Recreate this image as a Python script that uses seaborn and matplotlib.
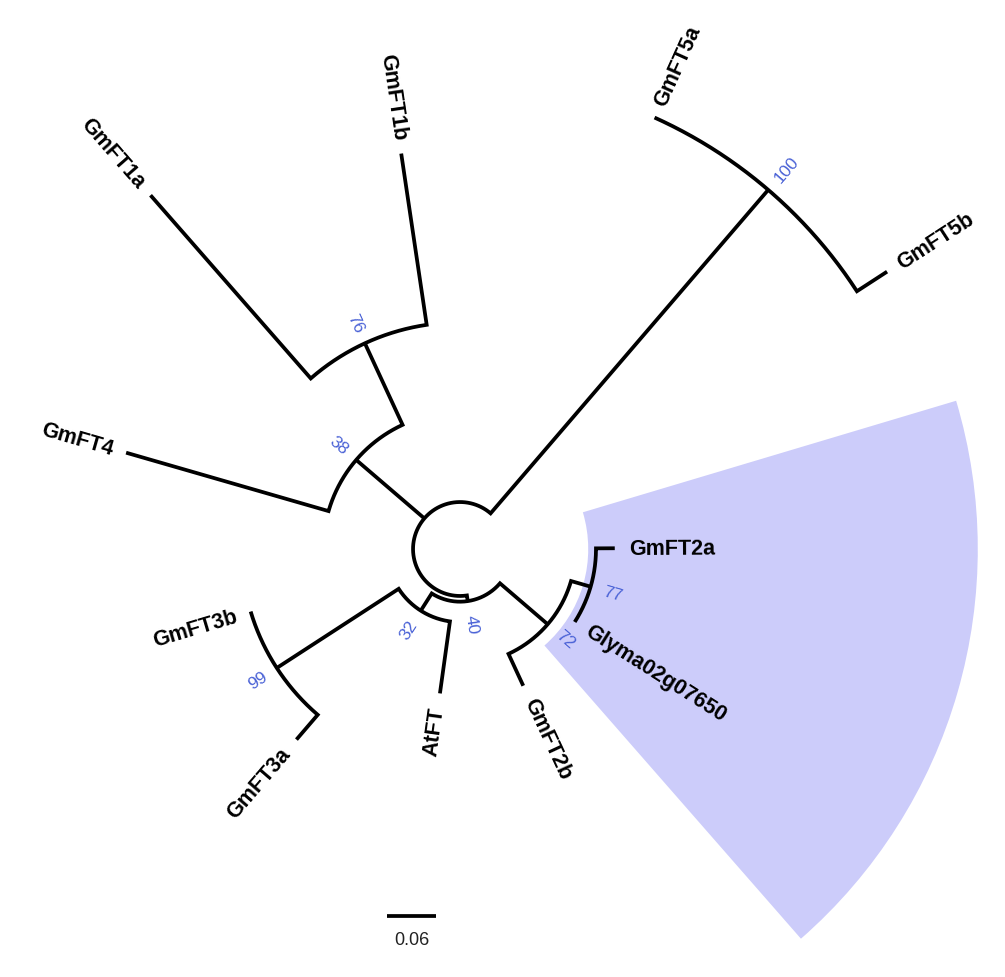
import numpy as np
import pandas as pd
import seaborn as sns
import matplotlib
matplotlib.use("Agg")
import matplotlib.pyplot as plt
from matplotlib.patches import Wedge

# tree as node / parent / branch length (subst. per site), children listed counter-clockwise
node_names = ['root', 'n100', 'GmFT5b', 'GmFT5a', 'n38', 'n76', 'GmFT1b', 'GmFT1a', 'GmFT4',
              'n40', 'n32', 'n99', 'GmFT3b', 'GmFT3a', 'AtFT', 'n72', 'GmFT2b', 'n77',
              'Glyma02g07650', 'GmFT2a']
parent_names = [None, 'root', 'n100', 'n100', 'root', 'n38', 'n76', 'n76', 'n38',
                'root', 'n40', 'n32', 'n99', 'n99', 'n32', 'n40', 'n72', 'n72',
                'n77', 'n77']
branch_len = [0.0, 0.522, 0.044, 0.0, 0.110, 0.110, 0.212, 0.298, 0.258,
              0.007, 0.025, 0.178, 0.0, 0.040, 0.089, 0.077, 0.043, 0.025,
              0.0, 0.023]

boot_nodes = ['n100', 'n76', 'n38', 'n40', 'n32', 'n99', 'n72', 'n77']
boot_values = [100, 76, 38, 40, 32, 99, 72, 77]

highlight_clade = 'n77'
highlight_r = (0.157, 0.634)
scale_value = 0.06

root_offset = 0.0575
start_angle = 33.0

sns.set_theme(style="white")
plt.rcParams['font.family'] = ['Liberation Sans', 'DejaVu Sans']

# ---- layout ----
children = {n: [] for n in node_names}
for n, p in zip(node_names, parent_names):
    if p is not None:
        children[p].append(n)
blen = dict(zip(node_names, branch_len))

radius = {}
def set_radius(n, r):
    radius[n] = r
    for c in children[n]:
        set_radius(c, r + blen[c])
set_radius('root', root_offset)

leaves = []
def collect(n):
    if not children[n]:
        leaves.append(n)
    for c in children[n]:
        collect(c)
collect('root')

step = 360.0 / len(leaves)
angle = {lf: start_angle + i * step for i, lf in enumerate(leaves)}
def set_angle(n):
    if children[n]:
        for c in children[n]:
            set_angle(c)
        angle[n] = (angle[children[n][0]] + angle[children[n][-1]]) / 2
set_angle('root')

def xy(r, a):
    t = np.deg2rad(a)
    return r * np.cos(t), r * np.sin(t)

rows = []
pid = 0
for n in node_names:
    kids = children[n]
    if not kids:
        continue
    c1, c2 = kids[0], kids[-1]
    pts = [xy(radius[c1], angle[c1])]
    for a in np.linspace(angle[c1], angle[c2], 200):
        pts.append(xy(radius[n], a))
    pts.append(xy(radius[c2], angle[c2]))
    for i, (x, y) in enumerate(pts):
        rows.append(dict(path=pid, order=i, x=x, y=y))
    pid += 1
    for c in kids[1:-1]:
        for i, r in enumerate([radius[n], radius[c]]):
            x, y = xy(r, angle[c])
            rows.append(dict(path=pid, order=i, x=x, y=y))
        pid += 1
branches = pd.DataFrame(rows)

# ---- figure ----
px = 816.7  # pixels per unit of branch length
fig = plt.figure(figsize=(10.05, 9.78), dpi=100)
ax = fig.add_axes([0, 0, 1, 1])
ax.set_xlim(-460 / px, 545 / px)
ax.set_ylim(-428 / px, 550 / px)
ax.set_aspect('equal')
ax.axis('off')

# highlighted clade
hl_leaves = []
def clade_leaves(n):
    if not children[n]:
        hl_leaves.append(n)
    for c in children[n]:
        clade_leaves(c)
clade_leaves(highlight_clade)
a0 = min(angle[l] for l in hl_leaves) - step / 2
a1 = max(angle[l] for l in hl_leaves) + step / 2
ax.add_patch(Wedge((0, 0), highlight_r[1], a0, a1, width=highlight_r[1] - highlight_r[0],
                   facecolor='#ccccfa', edgecolor='none', zorder=0))

sns.lineplot(data=branches, x='x', y='y', units='path', estimator=None, sort=False,
             color='black', linewidth=2.7, legend=False, ax=ax,
             solid_joinstyle='miter', solid_capstyle='butt')
ax.set_xlabel('')
ax.set_ylabel('')

def radial_text(r, a, s, **kw):
    a = a % 360
    x, y = xy(r, a)
    if 90 < a < 270:
        ax.text(x, y, s, rotation=a - 180, ha='right', va='center',
                rotation_mode='anchor', **kw)
    else:
        ax.text(x, y, s, rotation=a, ha='left', va='center',
                rotation_mode='anchor', **kw)

for lf in leaves:
    radial_text(radius[lf] + 0.017, angle[lf], lf, fontsize=15.5, fontweight='bold',
                color='black')

for n, v in zip(boot_nodes, boot_values):
    radial_text(radius[n] + 0.016, angle[n], str(v), fontsize=12.5, color='#4a62d6')

# scale bar
sx0, sy = -73 / px, -367 / px
ax.plot([sx0, sx0 + scale_value], [sy, sy], color='black', linewidth=2.7,
        solid_capstyle='butt')
ax.text(sx0 + scale_value / 2, sy - 24 / px, f'{scale_value:.2f}', ha='center',
        va='center', fontsize=13, color='#222222')

plt.savefig('out.png', dpi=100)
